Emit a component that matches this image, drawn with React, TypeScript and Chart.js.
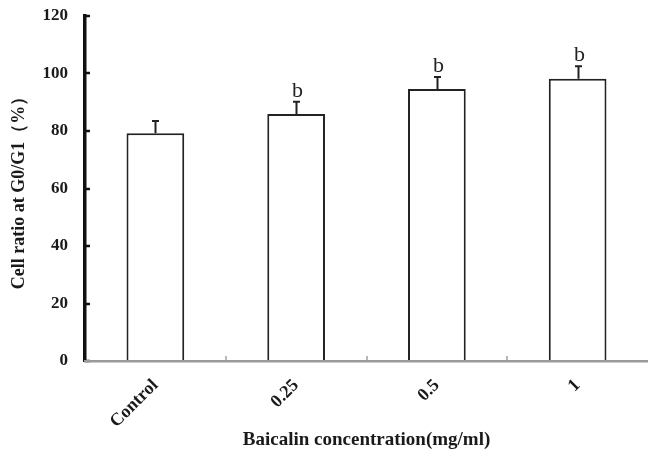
import React, { useEffect, useRef } from "react";
import { Chart, registerables } from "chart.js";

Chart.register(...registerables);

const categories = ["Control", "0.25", "0.5", "1"];
const cellRatio = [79.2, 85.9, 94.6, 98.2];
const errorUp = [4.3, 4.3, 4.2, 4.3];
const significance = ["", "b", "b", "b"];
const yTicks = [0, 20, 40, 60, 80, 100, 120];

const SERIF = "'Liberation Serif', 'Times New Roman', serif";

const annotatePlugin = {
  id: "annotate",
  afterDatasetsDraw(chart: any) {
    const ctx = chart.ctx;
    const x = chart.scales.x;
    const y = chart.scales.y;
    const area = chart.chartArea;
    ctx.save();
    // error bars
    ctx.strokeStyle = "#222";
    ctx.lineWidth = 2;
    cellRatio.forEach((v, i) => {
      const cx = Math.round(x.getPixelForValue(i)) + 0.5;
      const y0 = y.getPixelForValue(v);
      const y1 = y.getPixelForValue(v + errorUp[i]);
      ctx.beginPath();
      ctx.moveTo(cx, y0);
      ctx.lineTo(cx, y1);
      ctx.moveTo(cx - 3.5, y1);
      ctx.lineTo(cx + 3.5, y1);
      ctx.stroke();
      if (significance[i]) {
        ctx.fillStyle = "#222";
        ctx.font = `22px ${SERIF}`;
        ctx.textAlign = "center";
        ctx.textBaseline = "alphabetic";
        ctx.fillText(significance[i], cx + 1, y1 - 5);
      }
    });
    // inward y ticks
    ctx.strokeStyle = "#111";
    ctx.lineWidth = 2.5;
    yTicks.forEach((t) => {
      const py = Math.round(y.getPixelForValue(t));
      ctx.beginPath();
      ctx.moveTo(area.left, py);
      ctx.lineTo(area.left + 5, py);
      ctx.stroke();
    });
    // x boundary ticks
    ctx.strokeStyle = "#a0a0a0";
    ctx.lineWidth = 1.5;
    for (let i = 0; i < categories.length - 1; i++) {
      const bx = Math.round((x.getPixelForValue(i) + x.getPixelForValue(i + 1)) / 2);
      ctx.beginPath();
      ctx.moveTo(bx, area.bottom);
      ctx.lineTo(bx, area.bottom - 5);
      ctx.stroke();
    }
    ctx.restore();
  },
};

export default function App() {
  const ref = useRef<HTMLCanvasElement | null>(null);
  useEffect(() => {
    document.body.style.margin = "0";
    const canvas = ref.current;
    if (!canvas) return;
    const chart = new Chart(canvas, {
      type: "bar",
      data: {
        labels: categories,
        datasets: [
          {
            data: cellRatio,
            backgroundColor: "#ffffff",
            borderColor: "#222",
            borderWidth: 2,
            categoryPercentage: 1,
            barPercentage: 0.41,
          },
        ],
      },
      options: {
        responsive: false,
        animation: false,
        devicePixelRatio: 1,
        layout: { padding: { top: 16, right: 0, left: 0, bottom: 0 } },
        plugins: {
          legend: { display: false },
          tooltip: { enabled: false },
        },
        scales: {
          x: {
            grid: { display: false, drawTicks: false },
            border: { display: true, color: "#9a9a9a", width: 2.5, z: 1 },
            ticks: {
              minRotation: 45,
              maxRotation: 45,
              padding: 14,
              color: "#1a1a1a",
              font: { family: SERIF, size: 18, weight: "bold" },
            },
            title: {
              display: true,
              text: "Baicalin concentration(mg/ml)",
              color: "#1a1a1a",
              font: { family: SERIF, size: 19, weight: "bold" },
              padding: { top: 0, bottom: 7 },
            },
            afterFit: (s: any) => {
              s.height = 97;
              s.paddingLeft = 0;
              s.paddingRight = 0;
            },
          },
          y: {
            min: 0,
            max: 120,
            ticks: {
              stepSize: 20,
              padding: 17,
              color: "#1a1a1a",
              font: { family: SERIF, size: 17, weight: "bold" },
            },
            grid: { display: false, drawTicks: false },
            border: { display: true, color: "#111", width: 3.5 },
            title: {
              display: true,
              text: "Cell ratio at G0/G1（%）",
              color: "#1a1a1a",
              font: { family: SERIF, size: 18, weight: "bold" },
              padding: { top: 9, bottom: 0 },
            },
            afterFit: (s: any) => {
              s.width = 85;
              s.paddingTop = 0;
              s.paddingBottom = 0;
            },
          },
        },
      },
      plugins: [annotatePlugin],
    } as any);
    return () => chart.destroy();
  }, []);
  return (
    <div style={{ width: 648, height: 458 }}>
      <canvas ref={ref} width={648} height={458} style={{ display: "block" }} />
    </div>
  );
}
